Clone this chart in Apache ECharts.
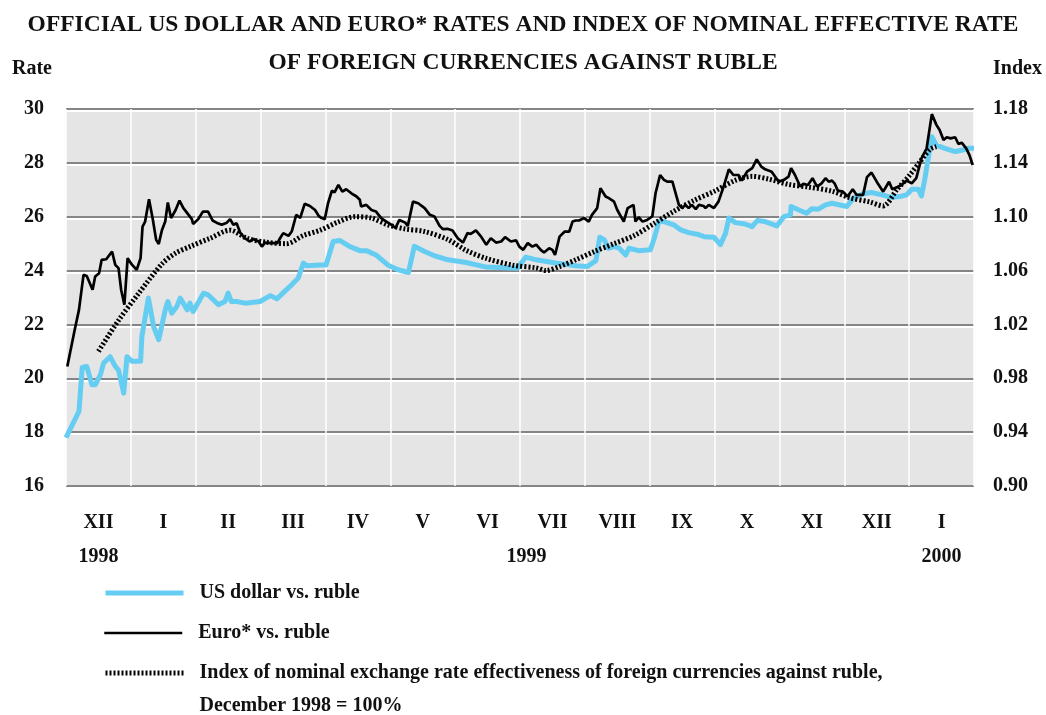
<!DOCTYPE html>
<html>
<head>
<meta charset="utf-8">
<script src="https://cdn.jsdelivr.net/npm/echarts@6/dist/echarts.min.js"></script>
<style>
html,body{margin:0;padding:0;background:#fff;}
#chart{width:1046px;height:715px;}
</style>
</head>
<body>
<div id="chart"></div>
<script>
// ---- DATA ----
const months = ['XII','I','II','III','IV','V','VI','VII','VIII','IX','X','XI','XII','I'];
const years = ['1998','1999','2000'];
const yearPos = [0.5, 7.1, 13.5]; // position in months from start of Dec 1998
const rateTicks = [16, 30, 2];
const indexTicks = [0.90, 1.18, 0.04];

// t = months since 1 Dec 1998, value = rubles per unit
const usd = [[0.00,17.8],[0.2,18.77],[0.25,20.4],[0.32,20.44],[0.4,19.76],[0.45,19.76],[0.53,20.13],[0.58,20.57],[0.68,20.8],[0.76,20.44],[0.81,20.3],[0.89,19.45],[0.94,20.8],[1.02,20.63],[1.15,20.63],[1.17,21.55],[1.27,22.98],[1.35,21.93],[1.43,21.43],[1.53,22.54],[1.57,22.85],[1.63,22.42],[1.71,22.67],[1.76,22.98],[1.87,22.54],[1.91,22.79],[1.96,22.48],[2.12,23.16],[2.19,23.1],[2.35,22.73],[2.45,22.85],[2.5,23.16],[2.55,22.85],[2.63,22.85],[2.76,22.79],[2.99,22.85],[3.15,23.07],[3.25,22.95],[3.4,23.29],[3.48,23.47],[3.58,23.72],[3.66,24.28],[3.71,24.18],[3.92,24.21],[4.01,24.21],[4.12,25.08],[4.22,25.12],[4.37,24.9],[4.53,24.74],[4.63,24.74],[4.78,24.58],[4.96,24.21],[5.12,24.03],[5.28,23.93],[5.37,24.9],[5.53,24.71],[5.68,24.55],[5.89,24.4],[6.17,24.3],[6.48,24.13],[6.96,24.09],[7.09,24.5],[7.25,24.4],[7.55,24.28],[7.86,24.18],[8.04,24.15],[8.17,24.37],[8.23,25.24],[8.3,25.14],[8.36,24.83],[8.45,24.89],[8.53,24.83],[8.63,24.58],[8.68,24.83],[8.83,24.74],[9.01,24.77],[9.07,25.2],[9.14,25.82],[9.22,25.82],[9.37,25.7],[9.48,25.51],[9.6,25.41],[9.73,25.35],[9.84,25.26],[9.99,25.24],[10.09,24.96],[10.17,25.39],[10.22,25.95],[10.32,25.78],[10.47,25.73],[10.58,25.63],[10.66,25.86],[10.78,25.82],[10.96,25.66],[11.07,26.0],[11.17,26.07],[11.18,26.38],[11.3,26.25],[11.42,26.13],[11.5,26.3],[11.6,26.28],[11.71,26.44],[11.81,26.5],[12.04,26.38],[12.14,26.69],[12.29,26.85],[12.42,26.9],[12.58,26.81],[12.73,26.72],[12.86,26.75],[12.96,26.81],[13.04,27.02],[13.14,27.02],[13.19,26.77],[13.24,27.37],[13.29,28.11],[13.35,28.97],[13.42,28.66],[13.55,28.54],[13.71,28.42],[13.83,28.48],[13.91,28.54],[14.0,28.54]];

const euro = [[0.02,20.44],[0.14,21.87],[0.2,22.54],[0.27,23.84],[0.32,23.8],[0.41,23.29],[0.45,23.78],[0.51,23.9],[0.55,24.4],[0.62,24.42],[0.71,24.71],[0.76,24.21],[0.81,24.09],[0.85,23.29],[0.9,22.73],[0.95,24.46],[1.02,24.21],[1.09,24.03],[1.15,24.46],[1.18,25.63],[1.22,25.82],[1.28,26.65],[1.34,25.88],[1.39,25.14],[1.43,24.99],[1.48,25.51],[1.53,25.82],[1.57,26.53],[1.62,25.95],[1.69,26.25],[1.75,26.6],[1.81,26.32],[1.89,26.07],[1.94,25.91],[1.96,25.73],[2.04,25.91],[2.11,26.19],[2.19,26.19],[2.26,25.86],[2.32,25.78],[2.4,25.7],[2.48,25.78],[2.53,25.91],[2.58,25.7],[2.63,25.76],[2.69,25.39],[2.76,25.2],[2.83,25.08],[2.89,25.17],[2.97,25.08],[3.02,24.89],[3.07,25.04],[3.17,25.02],[3.26,25.02],[3.3,25.2],[3.35,25.39],[3.43,25.29],[3.48,25.45],[3.55,26.07],[3.61,25.95],[3.68,26.48],[3.76,26.4],[3.84,26.25],[3.9,26.02],[3.94,25.95],[3.99,25.91],[4.04,26.5],[4.1,26.97],[4.14,26.9],[4.2,27.18],[4.26,26.93],[4.32,27.02],[4.4,26.87],[4.48,26.75],[4.53,26.63],[4.55,26.38],[4.63,26.44],[4.71,26.25],[4.78,26.19],[4.86,25.95],[4.94,25.82],[5.02,25.7],[5.08,25.58],[5.14,25.88],[5.23,25.78],[5.27,25.66],[5.35,26.56],[5.43,26.5],[5.53,26.32],[5.61,26.07],[5.68,26.01],[5.76,25.66],[5.81,25.54],[5.88,25.55],[5.96,25.49],[6.04,25.2],[6.12,25.04],[6.19,25.39],[6.24,25.36],[6.32,25.49],[6.4,25.26],[6.48,24.96],[6.55,25.2],[6.63,25.04],[6.71,25.08],[6.77,25.24],[6.86,25.08],[6.94,25.12],[6.99,24.89],[7.05,24.77],[7.12,25.02],[7.19,24.89],[7.25,24.96],[7.32,24.77],[7.37,24.67],[7.45,24.83],[7.5,24.77],[7.54,24.58],[7.61,25.26],[7.69,25.45],[7.76,25.45],[7.81,25.82],[7.86,25.86],[7.91,25.86],[7.99,25.95],[8.06,25.82],[8.11,26.07],[8.19,26.32],[8.24,27.06],[8.32,26.75],[8.37,26.69],[8.45,26.56],[8.5,26.25],[8.6,25.82],[8.66,26.32],[8.75,26.44],[8.78,25.82],[8.83,25.98],[8.89,25.82],[8.96,25.88],[9.04,26.01],[9.09,26.87],[9.16,27.55],[9.22,27.37],[9.27,27.3],[9.35,27.3],[9.4,26.87],[9.45,26.44],[9.5,26.32],[9.55,26.44],[9.6,26.32],[9.65,26.44],[9.71,26.28],[9.76,26.44],[9.83,26.4],[9.86,26.32],[9.91,26.44],[9.99,26.32],[10.06,26.56],[10.14,27.12],[10.22,27.76],[10.29,27.55],[10.37,27.55],[10.42,27.34],[10.5,27.67],[10.58,27.8],[10.65,28.13],[10.72,27.86],[10.78,27.76],[10.88,27.67],[10.99,27.3],[11.07,27.37],[11.14,27.49],[11.18,27.8],[11.24,27.55],[11.32,27.12],[11.37,27.22],[11.44,27.18],[11.51,27.43],[11.58,27.12],[11.65,27.24],[11.71,27.43],[11.76,27.3],[11.81,27.34],[11.85,27.24],[11.9,26.97],[11.98,26.93],[12.05,26.75],[12.13,27.02],[12.19,26.81],[12.29,26.81],[12.35,27.47],[12.42,27.64],[12.5,27.3],[12.6,26.93],[12.69,27.3],[12.74,27.02],[12.81,27.09],[12.88,27.18],[12.96,27.34],[13.04,27.24],[13.11,27.43],[13.19,28.17],[13.27,28.54],[13.35,29.81],[13.42,29.41],[13.47,29.22],[13.53,28.85],[13.58,28.95],[13.64,28.91],[13.71,28.95],[13.76,28.7],[13.81,28.75],[13.88,28.54],[13.93,28.29],[13.98,27.92]];

const nominalIndex = [[0.5,1.0],[0.81,1.023],[1.12,1.043],[1.48,1.065],[1.69,1.073],[1.92,1.078],[2.22,1.084],[2.53,1.090],[2.79,1.084],[3.09,1.081],[3.4,1.080],[3.66,1.086],[3.92,1.090],[4.19,1.096],[4.45,1.100],[4.71,1.099],[4.96,1.094],[5.22,1.091],[5.53,1.089],[5.89,1.083],[6.17,1.075],[6.48,1.069],[6.89,1.064],[7.25,1.062],[7.4,1.060],[7.61,1.063],[7.86,1.068],[8.14,1.074],[8.45,1.080],[8.76,1.086],[9.07,1.095],[9.37,1.104],[9.68,1.112],[10.0,1.119],[10.32,1.127],[10.58,1.130],[10.83,1.128],[11.14,1.124],[11.45,1.122],[11.81,1.119],[12.09,1.114],[12.39,1.111],[12.6,1.108],[12.81,1.120],[13.01,1.131],[13.17,1.141],[13.32,1.150],[13.42,1.152]];

const seriesNames = [
  'US dollar vs. ruble',
  'Euro* vs. ruble',
  'Index of nominal exchange rate effectiveness of foreign currencies against ruble,\nDecember 1998 = 100%'
];
const titleText = 'OFFICIAL US DOLLAR AND EURO* RATES AND INDEX OF NOMINAL EFFECTIVE RATE\nOF FOREIGN CURRENCIES AGAINST RUBLE';

// ---- CHART ----
const FONT = "'Liberation Serif', 'DejaVu Serif', serif";
const chart = echarts.init(document.getElementById('chart'), null, {renderer: 'canvas'});
const txt = {fontFamily: FONT, fontWeight: 'bold', color: '#111', fontSize: 20};
const BLUE = '#66cdf2';

function legendFor(i, top, lineStyle, formatter) {
  const l = {
    orient: 'vertical', left: 103, top: top, padding: 0,
    itemWidth: 78, itemHeight: 14, selectedMode: false,
    data: [seriesNames[i]],
    itemStyle: {opacity: 0},
    lineStyle: lineStyle,
    textStyle: Object.assign({}, txt, {lineHeight: 33, padding: [0, 0, 0, 11]})
  };
  if (formatter) l.formatter = formatter;
  return l;
}

chart.setOption({
  backgroundColor: '#fff',
  animation: false,
  title: {
    text: titleText, left: 'center', top: 1,
    textStyle: {fontFamily: FONT, fontWeight: 'bold', fontSize: 23.5, lineHeight: 38, color: '#111'}
  },
  grid: {left: 66, right: 72, top: 109, bottom: 229, show: true, backgroundColor: '#e5e5e5', borderWidth: 0, containLabel: false},
  legend: [
    legendFor(0, 576.5, {color: BLUE, width: 5}),
    legendFor(1, 616.5, {color: '#000', width: 2.5}),
    legendFor(2, 623.5, {color: '#000', width: 5, type: [2, 2]}, name => '\n' + name)
  ],
  xAxis: [
    {
      type: 'category', data: months, boundaryGap: true, position: 'bottom',
      axisLine: {show: false}, axisTick: {show: false},
      axisLabel: Object.assign({}, txt, {margin: 27, interval: 0}),
      splitLine: {show: true, interval: 0, lineStyle: {color: '#ffffff', width: 1.5}}
    },
    {
      type: 'value', min: 0, max: months.length, position: 'bottom',
      axisLine: {show: false}, axisTick: {show: false}, splitLine: {show: false},
      axisLabel: Object.assign({}, txt, {
        margin: 61, customValues: yearPos, showMinLabel: true, showMaxLabel: true,
        formatter: v => { const i = yearPos.findIndex(p => Math.abs(p - v) < 1e-6); return i >= 0 ? years[i] : ''; }
      })
    }
  ],
  yAxis: [
    {
      type: 'value', min: rateTicks[0], max: rateTicks[1], interval: rateTicks[2], position: 'left',
      name: 'Rate', nameLocation: 'end', nameGap: 30,
      nameTextStyle: Object.assign({}, txt, {align: 'right', padding: [0, 14, 0, 0]}),
      axisLine: {show: false}, axisTick: {show: false},
      axisLabel: Object.assign({}, txt, {margin: 22}),
      splitLine: {show: true, lineStyle: {color: '#858585', width: 2, shadowColor: '#ffffff', shadowOffsetY: 2, shadowBlur: 0}}
    },
    {
      type: 'value', min: indexTicks[0], max: indexTicks[1], interval: indexTicks[2], position: 'right',
      name: 'Index', nameLocation: 'end', nameGap: 30,
      nameTextStyle: Object.assign({}, txt, {align: 'left', padding: [0, 0, 0, 19]}),
      axisLine: {show: false}, axisTick: {show: false},
      axisLabel: Object.assign({}, txt, {margin: 19, formatter: v => v.toFixed(2)}),
      splitLine: {show: false}
    }
  ],
  series: [
    {
      name: seriesNames[0], type: 'line', xAxisIndex: 1, yAxisIndex: 0, data: usd,
      symbol: 'none', z: 3,
      lineStyle: {color: BLUE, width: 5, join: 'round'}, itemStyle: {color: BLUE}
    },
    {
      name: seriesNames[1], type: 'line', xAxisIndex: 1, yAxisIndex: 0, data: euro,
      symbol: 'none', z: 4,
      lineStyle: {color: '#000', width: 2.7}, itemStyle: {color: '#000'}
    },
    {
      name: seriesNames[2], type: 'line', xAxisIndex: 1, yAxisIndex: 1, data: nominalIndex,
      symbol: 'none', smooth: 0.3, z: 5,
      lineStyle: {color: '#000', width: 5, type: [2, 2]}, itemStyle: {color: '#000'}
    }
  ]
});
</script>
</body>
</html>
